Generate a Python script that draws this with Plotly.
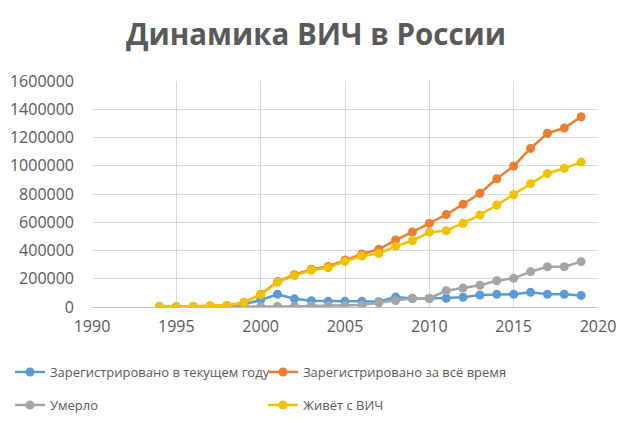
import plotly.graph_objects as go

years = list(range(1994, 2020))

# Зарегистрировано в текущем году
reg_year = [1000, 1000, 1500, 4000, 4000, 20000, 50000, 90000, 58000, 45000,
            40000, 40000, 40000, 38000, 70000, 60000, 60000, 62000, 69000, 85000,
            90000, 90000, 104000, 90000, 90000, 82000]
# Зарегистрировано за всё время
reg_total = [1000, 2000, 3500, 7500, 11000, 31000, 90000, 180000, 228000, 268000,
             287000, 333000, 375000, 408000, 474000, 531000, 592000, 654000, 727000, 805000,
             908000, 998000, 1123000, 1230000, 1267000, 1347000]
# Умерло
died = [0, 0, 0, 500, 1000, 2000, 3000, 4000, 6000, 8000,
        10000, 10000, 14000, 30000, 45000, 62000, 62000, 115000, 134000, 154000,
        186000, 203000, 250000, 285000, 285000, 321000]
# Живёт с ВИЧ
living = [1000, 2000, 3500, 7000, 10000, 29000, 87000, 176000, 222000, 260000,
          277000, 323000, 361000, 378000, 429000, 469000, 530000, 539000, 593000, 651000,
          722000, 795000, 873000, 945000, 982000, 1026000]

names = ["Зарегистрировано в текущем году", "Зарегистрировано за всё время",
         "Умерло", "Живёт с ВИЧ"]
colors = ["#5B9BD5", "#ED7D31", "#A5A5A5", "#F2C200"]
series = [reg_year, reg_total, died, living]

# page body has an 8px margin, so the figure is 632x422 and sits at (8, 8)
W, H = 632, 422
grey_txt = "#595959"
fam = "Open Sans"

# one legend per entry, laid out as a 2x2 grid below the plot
legend_ids = ["legend", "legend2", "legend3", "legend4"]
leg_x = [2, 255, 2, 255]
leg_y = [364, 364, 397, 397]

fig = go.Figure()
for name, vals, col, lg in zip(names, series, colors, legend_ids):
    fig.add_trace(go.Scatter(x=years, y=vals, name=name, mode="lines+markers",
                             line=dict(color=col, width=2.5),
                             marker=dict(color=col, size=9),
                             legend=lg))

legends = {}
for lg, lx, ly in zip(legend_ids, leg_x, leg_y):
    legends[lg] = dict(orientation="h", xref="container", yref="container",
                       x=lx / W, xanchor="left", y=1 - ly / H, yanchor="middle",
                       font=dict(family=fam, size=13, color=grey_txt),
                       bgcolor="rgba(0,0,0,0)", itemclick=False)

fig.update_layout(
    width=W, height=H,
    margin=dict(l=84, r=42, t=73, b=123),
    paper_bgcolor="white", plot_bgcolor="white",
    font=dict(family=fam, size=15, color=grey_txt),
    title=dict(text="<b>Динамика ВИЧ в России</b>", x=308 / W, xanchor="center",
               y=1 - 27 / H, yanchor="middle",
               font=dict(family=fam, size=29.5, color=grey_txt)),
    showlegend=True,
    **legends,
)
fig.update_xaxes(range=[1990, 2020], dtick=5, tick0=1990, showgrid=True,
                 gridcolor="#D9D9D9", gridwidth=1, zeroline=False,
                 showline=True, linecolor="#BFBFBF", linewidth=1,
                 ticks="", ticklabelstandoff=5, tickfont=dict(size=16),
                 automargin=False)
fig.update_yaxes(range=[0, 1600000], dtick=200000, showgrid=True,
                 gridcolor="#D9D9D9", gridwidth=1, zeroline=False,
                 showline=False, ticks="", tickformat="d",
                 tickfont=dict(size=16), ticklabelstandoff=17,
                 automargin=False)

fig.write_html("out.html")
